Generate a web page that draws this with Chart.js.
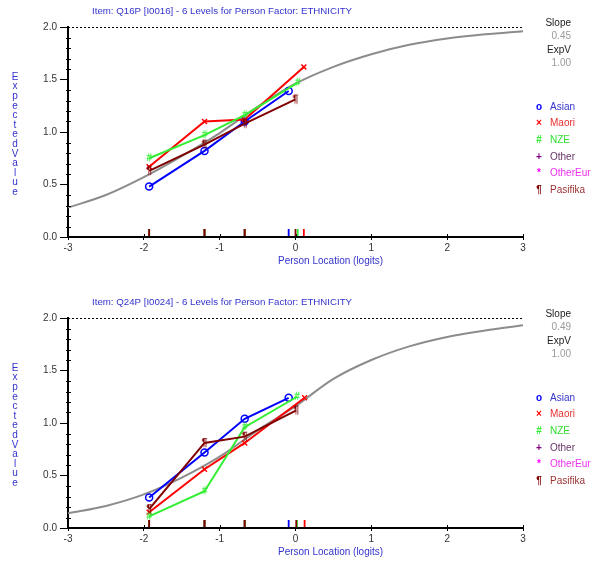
<!DOCTYPE html>
<html>
<head>
<meta charset="utf-8">
<script src="https://cdn.jsdelivr.net/npm/chart.js@4.4.0/dist/chart.umd.min.js"></script>
<style>
  body { margin: 0; background: #fff; overflow: hidden; }
  .panel { position: absolute; left: 0; width: 592px; height: 281px; }
</style>
</head>
<body>
<div class="panel" style="top:0"><canvas id="q16" width="592" height="281"></canvas></div>
<div class="panel" style="top:291px"><canvas id="q24" width="592" height="281"></canvas></div>
<script>
// model curve at half-logit steps
const curveX = [-3, -2.5, -2, -1.5, -1, -0.5, 0, 0.5, 1, 1.5, 2, 2.5, 3];
const curveQ16 = [0.28, 0.40, 0.57, 0.77, 0.99, 1.24, 1.46, 1.62, 1.74, 1.83, 1.89, 1.93, 1.96];
const curveQ24 = [0.14, 0.21, 0.32, 0.48, 0.68, 0.93, 1.16, 1.42, 1.60, 1.73, 1.82, 1.88, 1.93];

// class interval locations (shared first three, last one per group)
const classX = [-1.93, -1.20, -0.67];
const groupNames = ['Asian', 'Maori', 'NZE', 'Other', 'OtherEur', 'Pasifika'];
const plotted = ['Asian', 'Maori', 'NZE', 'Pasifika'];

// Q16P observed means
const q16Asian = [0.48, 0.82, 1.10, 1.39];
const q16Maori = [0.67, 1.10, 1.12, 1.62];
const q16NZE = [0.75, 0.97, 1.16, 1.47];
const q16Pasifika = [0.63, 0.88, 1.08, 1.31];
const q16LastX = [-0.09, 0.11, 0.03, 0.0];

// Q24P observed means
const q24Asian = [0.29, 0.72, 1.04, 1.24];
const q24Maori = [0.15, 0.56, 0.81, 1.24];
const q24NZE = [0.11, 0.35, 0.96, 1.25];
const q24Pasifika = [0.18, 0.81, 0.87, 1.12];
const q24LastX = [-0.09, 0.12, 0.02, 0.01];

const lineColor = { Asian: '#0000ff', Maori: '#ff0000', NZE: '#33ee33', Other: '#800080', OtherEur: '#ff00ff', Pasifika: '#800000' };
const textColor = { Asian: '#3333cc', Maori: '#e83030', NZE: '#30e030', Other: '#663366', OtherEur: '#ee30ee', Pasifika: '#993333' };
const legendGlyph = { Asian: 'o', Maori: '\u00d7', NZE: '#', Other: '+', OtherEur: '*', Pasifika: '\u00b6' };

const FONT = '"Liberation Sans", Arial, sans-serif';

function glyph(ch, color) {
  var c = document.createElement('canvas');
  c.width = 10; c.height = 12;
  var g = c.getContext('2d');
  g.fillStyle = color;
  g.font = 'bold 10px ' + FONT;
  g.textAlign = 'center';
  g.textBaseline = 'middle';
  g.fillText(ch, 5, 6);
  return c;
}

var deco = {
  id: 'deco',
  afterDraw: function (chart, args, opts) {
    var ctx = chart.ctx, a = chart.chartArea;
    var xs = chart.scales.x, ys = chart.scales.y;
    ctx.save();

    // title
    ctx.fillStyle = '#3333cc';
    ctx.font = '9.7px ' + FONT;
    ctx.textBaseline = 'alphabetic';
    ctx.textAlign = 'left';
    ctx.fillText(opts.title, 92, 14);

    // dashed max line
    ctx.strokeStyle = '#000';
    ctx.lineWidth = 1;
    ctx.setLineDash([2, 2]);
    ctx.beginPath();
    ctx.moveTo(a.left, ys.getPixelForValue(2) + 0.5);
    ctx.lineTo(a.right, ys.getPixelForValue(2) + 0.5);
    ctx.stroke();
    ctx.setLineDash([]);

    // minor y ticks
    ctx.beginPath();
    for (var i = 1; i < 20; i++) {
      if (i % 5 === 0) continue;
      var py = Math.round(ys.getPixelForValue(i / 10)) + 0.5;
      ctx.moveTo(a.left - 2, py);
      ctx.lineTo(a.left + 3, py);
    }
    // x ticks above the axis
    for (var v = -3; v <= 3; v++) {
      var px = Math.round(xs.getPixelForValue(v)) + 0.5;
      ctx.moveTo(px, a.bottom - 3);
      ctx.lineTo(px, a.bottom);
    }
    ctx.stroke();

    // class interval location marks
    ctx.lineWidth = 1.8;
    opts.marks.forEach(function (m) {
      ctx.strokeStyle = lineColor[m.name];
      ctx.beginPath();
      m.x.forEach(function (xv) {
        var px = xs.getPixelForValue(xv);
        ctx.moveTo(px, a.bottom - 8);
        ctx.lineTo(px, a.bottom - 1);
      });
      ctx.stroke();
    });

    // x axis title
    ctx.fillStyle = '#3333cc';
    ctx.font = '10px ' + FONT;
    ctx.textAlign = 'left';
    ctx.fillText('Person Location (logits)', 278, 264);

    // y axis title, stacked letters
    ctx.textAlign = 'center';
    ctx.textBaseline = 'middle';
    var label = 'ExpectedValue';
    for (var k = 0; k < label.length; k++) {
      ctx.fillText(label[k], 15, 77 + k * 9.6);
    }

    // slope / expected value box
    ctx.textAlign = 'right';
    ctx.fillStyle = '#222';
    ctx.fillText('Slope', 571, 23);
    ctx.fillText('ExpV', 571, 50);
    ctx.fillStyle = '#999';
    ctx.fillText(opts.slope, 571, 36);
    ctx.fillText(opts.expv, 571, 63);

    // group legend
    groupNames.forEach(function (n, j) {
      var yy = 107 + j * 16.6;
      ctx.fillStyle = lineColor[n];
      ctx.textAlign = 'center';
      ctx.font = 'bold 10px ' + FONT;
      ctx.fillText(legendGlyph[n], 539, yy);
      ctx.fillStyle = textColor[n];
      ctx.textAlign = 'left';
      ctx.font = '10px ' + FONT;
      ctx.fillText(n, 550, yy);
    });
    ctx.restore();
  }
};

function pts(xv, yv) {
  return xv.map(function (x, i) { return { x: x, y: yv[i] }; });
}

function makeChart(id, title, slope, curve, series, lastX) {
  var markers = {
    Asian: { style: 'circle', r: 3.5 },
    Maori: { style: 'crossRot', r: 3.5 },
    NZE: { style: glyph('#', lineColor.NZE), r: 5 },
    Pasifika: { style: glyph('\u00b6', lineColor.Pasifika), r: 5 }
  };
  var datasets = [{
    data: pts(curveX, curve),
    borderColor: '#8c8c8c',
    borderWidth: 2,
    pointRadius: 0,
    cubicInterpolationMode: 'monotone',
    order: 10
  }];
  var marks = [];
  plotted.forEach(function (n, i) {
    var xv = classX.concat([lastX[i]]);
    marks.push({ name: n, x: xv });
    datasets.push({
      data: pts(xv, series[i]),
      borderColor: lineColor[n],
      backgroundColor: 'rgba(0,0,0,0)',
      borderWidth: 2,
      pointStyle: markers[n].style,
      pointRadius: markers[n].r,
      pointBorderWidth: 1.5,
      pointBorderColor: lineColor[n],
      tension: 0,
      order: 5 - i
    });
  });

  new Chart(document.getElementById(id), {
    type: 'line',
    data: { datasets: datasets },
    options: {
      responsive: false,
      animation: false,
      layout: { padding: { left: 0, right: 69, top: 27, bottom: 0 } },
      plugins: {
        legend: { display: false },
        tooltip: { enabled: false },
        deco: { title: title, slope: slope, expv: '1.00', marks: marks }
      },
      scales: {
        x: {
          type: 'linear', min: -3, max: 3,
          ticks: { stepSize: 1, color: '#333', padding: 2, font: { family: FONT, size: 10 } },
          grid: { drawOnChartArea: false, tickLength: 3, color: '#000' },
          border: { color: '#000', width: 2 },
          afterFit: function (s) { s.height = 44; }
        },
        y: {
          min: 0, max: 2,
          ticks: { stepSize: 0.5, color: '#333', padding: 3, font: { family: FONT, size: 10 },
                   callback: function (v) { return v.toFixed(1); } },
          grid: { drawOnChartArea: false, tickLength: 8, color: '#000' },
          border: { color: '#000', width: 2 },
          afterFit: function (s) { s.width = 68; }
        }
      }
    },
    plugins: [deco]
  });
}

makeChart('q16', 'Item: Q16P [I0016] - 6 Levels for Person Factor: ETHNICITY', '0.45', curveQ16,
  [q16Asian, q16Maori, q16NZE, q16Pasifika], q16LastX);
makeChart('q24', 'Item: Q24P [I0024] - 6 Levels for Person Factor: ETHNICITY', '0.49', curveQ24,
  [q24Asian, q24Maori, q24NZE, q24Pasifika], q24LastX);
</script>
</body>
</html>
